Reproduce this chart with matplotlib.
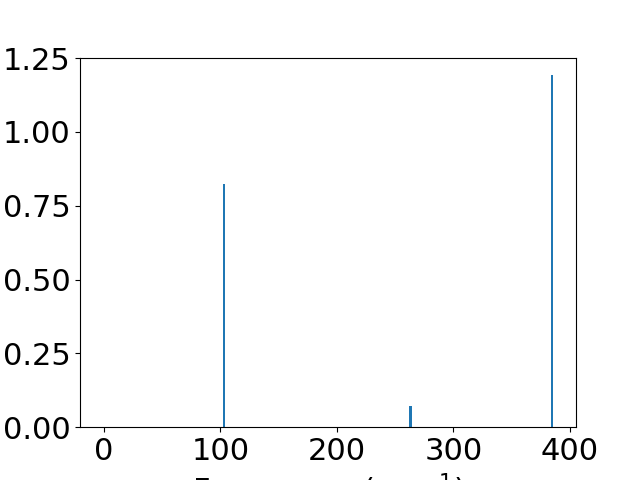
import matplotlib
matplotlib.use("Agg")
import matplotlib.pyplot as plt

# vibrational frequencies (cm^-1) and intensities
freqs = [0.0, 0.0, 0.0, 103.2, 263.2, 384.8]
intensities = [0.0, 0.0, 0.0, 0.823, 0.071, 1.192]

plt.rcParams["font.size"] = 22

fig, ax = plt.subplots(figsize=(6.4, 4.8), dpi=100)
ax.bar(freqs, intensities, width=2)
ax.set_xlabel("Frequency (cm$^{-1}$)")

fig.savefig("out.png")
